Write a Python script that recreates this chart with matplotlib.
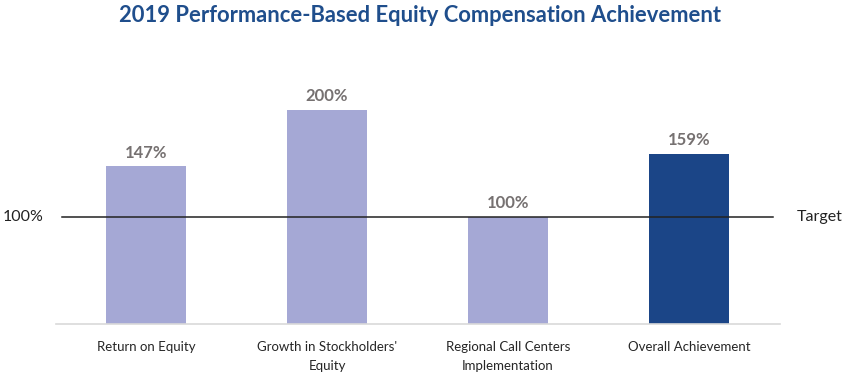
import matplotlib.pyplot as plt

categories = ["Return on Equity", "Growth in Stockholders'\nEquity",
              "Regional Call Centers\nImplementation", "Overall Achievement"]
values = [147, 200, 100, 159]
labels = ["147%", "200%", "100%", "159%"]
target = 100

plt.rcParams['font.family'] = ['Lato', 'DejaVu Sans']

fig = plt.figure(figsize=(8.44, 3.74), dpi=100)
ax = fig.add_axes([55.5 / 844, 50 / 374, 724 / 844, 268 / 374])

colors = ['#A5A8D5', '#A5A8D5', '#A5A8D5', '#1B4587']
x = list(range(len(values)))
ax.bar(x, values, width=0.44, color=colors, zorder=2)
for xi, v, lab in zip(x, values, labels):
    ax.text(xi, v + 5, lab, ha='center', va='bottom', fontsize=12,
            fontweight='bold', color='#767171')

ax.axhline(target, xmin=0.009, xmax=0.991, color='#222222', lw=1.1, zorder=3)
ax.set_xlim(-0.5, 3.5)
ax.set_ylim(0, 250)
ax.set_xticks(x)
ax.set_xticklabels(categories, fontsize=9.5, color='#262626', linespacing=1.7)
ax.tick_params(axis='x', length=0, pad=12)
ax.set_yticks([])
for s in ['top', 'right', 'left']:
    ax.spines[s].set_visible(False)
ax.spines['bottom'].set_color('#D9D9D9')
ax.spines['bottom'].set_linewidth(1.2)

fig.text(3 / 844, 1 - 217 / 374, "100%", ha='left', va='center', fontsize=11.5, color='#222222')
fig.text(797 / 844, 1 - 217 / 374, "Target", ha='left', va='center', fontsize=11.5, color='#222222')

fig.text(420 / 844, 1 - 15 / 374, "2019 Performance-Based Equity Compensation Achievement",
         ha='center', va='center', fontsize=15.8, fontweight='bold', color='#1F4E8C')

fig.savefig('out.png', dpi=100)
